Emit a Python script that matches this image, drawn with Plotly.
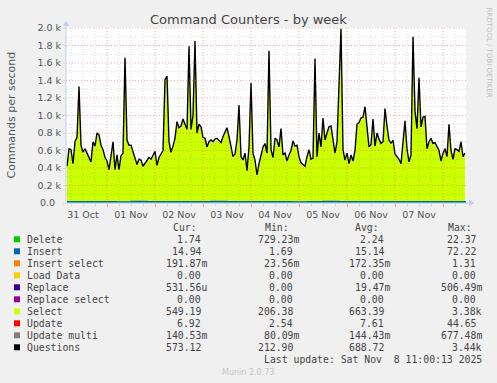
import pandas as pd
import plotly.graph_objects as go

# ---------------- data ----------------
start_time = "2025-10-31 04:00"
questions_k = [
    0.42, 0.62, 0.61, 0.45, 0.70, 0.75, 1.33, 0.66, 0.58, 0.62,
    0.57, 0.51, 0.47, 0.70, 0.65, 0.80, 0.78, 0.66, 0.61, 0.52,
    0.48, 0.38, 0.52, 0.70, 0.38, 0.55, 0.38, 0.54, 0.57, 1.66,
    0.72, 0.66, 0.66, 0.58, 0.53, 0.44, 0.50, 0.49, 0.42, 0.45,
    0.49, 0.52, 0.50, 0.54, 0.59, 0.43, 0.52, 0.56, 0.60, 1.41,
    1.45, 0.70, 0.58, 0.65, 0.74, 0.93, 0.86, 0.88, 0.96, 0.90,
    0.84, 1.79, 0.84, 1.00, 1.85, 0.80, 0.90, 0.87, 0.75, 0.74,
    0.64, 0.70, 0.72, 0.70, 0.73, 0.74, 0.72, 0.69, 0.76, 0.82,
    0.86, 0.76, 0.62, 0.53, 0.56, 0.72, 1.12, 0.53, 0.49, 0.57,
    0.37, 0.64, 1.37, 0.57, 0.49, 0.32, 0.45, 0.53, 0.64, 0.68,
    0.57, 1.74, 0.61, 0.52, 0.74, 0.72, 0.64, 0.85, 0.55, 0.57,
    0.48, 0.55, 0.60, 0.71, 0.65, 0.66, 0.53, 0.46, 0.44, 0.42,
    0.53, 0.61, 0.50, 0.51, 1.65, 0.53, 0.80, 0.64, 0.97, 0.72,
    0.80, 0.87, 0.88, 0.72, 0.57, 0.70, 1.40, 1.99, 0.61, 0.49,
    0.57, 0.45, 0.55, 0.48, 0.60, 0.90, 0.92, 0.97, 0.98, 1.10,
    0.87, 0.64, 0.67, 0.96, 0.65, 0.80, 0.73, 0.68, 0.70, 1.08,
    0.88, 0.72, 0.68, 0.72, 0.56, 0.53, 0.50, 0.45, 0.70, 0.94,
    0.62, 0.47, 0.55, 1.90, 1.05, 0.85, 1.43, 0.87, 0.98, 0.99,
    0.62, 0.70, 0.74, 0.68, 0.69, 0.65, 0.60, 0.48, 0.57, 0.62,
    0.53, 0.90, 0.60, 0.50, 0.62, 0.61, 0.59, 0.70, 0.53, 0.57,
]
select_k = [
    0.40, 0.60, 0.59, 0.43, 0.68, 0.73, 1.31, 0.64, 0.56, 0.60,
    0.55, 0.49, 0.45, 0.68, 0.63, 0.78, 0.76, 0.64, 0.59, 0.50,
    0.46, 0.36, 0.50, 0.68, 0.36, 0.53, 0.36, 0.52, 0.55, 1.64,
    0.70, 0.64, 0.64, 0.56, 0.51, 0.42, 0.48, 0.47, 0.40, 0.43,
    0.47, 0.50, 0.48, 0.52, 0.57, 0.41, 0.50, 0.54, 0.58, 1.39,
    1.43, 0.68, 0.56, 0.63, 0.72, 0.91, 0.84, 0.86, 0.94, 0.88,
    0.82, 1.77, 0.82, 0.98, 1.83, 0.78, 0.88, 0.85, 0.73, 0.72,
    0.62, 0.68, 0.70, 0.68, 0.71, 0.72, 0.70, 0.67, 0.74, 0.80,
    0.84, 0.74, 0.60, 0.51, 0.54, 0.70, 1.10, 0.51, 0.47, 0.55,
    0.35, 0.62, 1.35, 0.55, 0.47, 0.30, 0.43, 0.51, 0.62, 0.66,
    0.55, 1.72, 0.59, 0.50, 0.72, 0.70, 0.62, 0.83, 0.53, 0.55,
    0.46, 0.53, 0.58, 0.69, 0.63, 0.64, 0.51, 0.44, 0.42, 0.40,
    0.51, 0.59, 0.48, 0.49, 1.63, 0.51, 0.78, 0.62, 0.95, 0.70,
    0.78, 0.85, 0.86, 0.70, 0.55, 0.68, 1.38, 1.97, 0.59, 0.47,
    0.55, 0.43, 0.53, 0.46, 0.58, 0.88, 0.90, 0.95, 0.96, 1.08,
    0.85, 0.62, 0.65, 0.94, 0.63, 0.78, 0.71, 0.66, 0.68, 1.06,
    0.86, 0.70, 0.66, 0.70, 0.54, 0.51, 0.48, 0.43, 0.68, 0.92,
    0.60, 0.45, 0.53, 1.88, 1.03, 0.83, 1.41, 0.85, 0.96, 0.97,
    0.60, 0.68, 0.72, 0.66, 0.67, 0.63, 0.58, 0.46, 0.55, 0.60,
    0.51, 0.88, 0.58, 0.48, 0.60, 0.59, 0.57, 0.68, 0.51, 0.55,
]
# small series, sampled every 8 hours
small_start = "2025-10-31 04:00"
insert_vals = [14, 16, 15, 13, 17, 15, 16, 14, 15, 18, 15, 14, 16,
               15, 13, 15, 17, 16, 14, 15, 16, 15, 14, 15, 15, 15]
delete_vals = [2, 2, 3, 2, 2, 2, 3, 2, 2, 2, 2, 3, 2,
               2, 2, 2, 3, 2, 2, 2, 2, 2, 3, 2, 2, 2]

y_ticks = [0, 200, 400, 600, 800, 1000, 1200, 1400, 1600, 1800, 2000]
y_ticktext = ["0.0\u00a0\u00a0", "0.2 k", "0.4 k", "0.6 k", "0.8 k", "1.0 k",
              "1.2 k", "1.4 k", "1.6 k", "1.8 k", "2.0 k"]

legend_labels = ["Delete", "Insert", "Insert select", "Load Data", "Replace",
                 "Replace select", "Select", "Update", "Update multi", "Questions"]
legend_colors = ["#00CC00", "#0066B3", "#FF8000", "#FFCC00", "#330099",
                 "#990099", "#CCFF00", "#FF0000", "#808080", "#000000"]
cur_vals = ["1.74", "14.94", "191.87m", "0.00", "531.56u", "0.00", "549.19", "6.92", "140.53m", "573.12"]
min_vals = ["729.23m", "1.69", "23.56m", "0.00", "0.00", "0.00", "206.38", "2.54", "80.09m", "212.90"]
avg_vals = ["2.24", "15.14", "172.35m", "0.00", "19.47m", "0.00", "663.39", "7.61", "144.43m", "688.72"]
max_vals = ["22.37", "72.22", "1.31", "0.00", "506.49m", "0.00", "3.38k", "44.65", "677.48m", "3.44k"]
last_update = "Last update: Sat Nov\u00a0\u00a08 11:00:13 2025"

# ---------------- layout helpers ----------------
W, H = 497, 383
L, R, T, B = 66, 31, 28, 180
PW, PH = W - L - R, H - T - B
X_RANGE = ["2025-10-31 03:30", "2025-11-08 11:30"]


def px(xp):
    return (xp - L) / PW


def py(yp):
    return (H - B - yp) / PH


times = pd.date_range(start_time, periods=len(questions_k), freq="h")
small_times = pd.date_range(small_start, periods=len(insert_vals), freq="8h")

fig = go.Figure()
fig.add_trace(go.Scatter(x=times, y=[v * 1000 for v in select_k], mode="lines",
                         fill="tozeroy", fillcolor="#CCFF00",
                         line=dict(width=0, color="#CCFF00"), name="Select",
                         hoverinfo="skip"))
fig.add_trace(go.Scatter(x=small_times, y=insert_vals, mode="lines",
                         fill="tozeroy", fillcolor="#0066B3",
                         line=dict(width=1.4, color="#0066B3"), name="Insert",
                         line_shape="hv", hoverinfo="skip"))
fig.add_trace(go.Scatter(x=small_times, y=delete_vals, mode="lines",
                         fill="tozeroy", fillcolor="#00CC00",
                         line=dict(width=0, color="#00CC00"), name="Delete",
                         line_shape="hv", hoverinfo="skip"))
fig.add_trace(go.Scatter(x=times, y=[v * 1000 for v in questions_k], mode="lines",
                         line=dict(width=1.4, color="#000000"), name="Questions",
                         hoverinfo="skip"))

tickfont = dict(family="DejaVu Sans", size=9.5, color="#555555")
fig.update_layout(
    width=W, height=H,
    margin=dict(l=L, r=R, t=T, b=B, pad=0),
    paper_bgcolor="#F0F0F0", plot_bgcolor="#FFFFFF",
    showlegend=False,
    xaxis=dict(
        type="date", range=X_RANGE,
        tick0="2025-11-01", dtick=86400000,
        tickformat="%d %b", ticklabelmode="period",
        showgrid=False,
        ticks="outside", ticklen=3, tickcolor="#F0A0A0",
        minor=dict(dtick=6 * 3600 * 1000, showgrid=False,
                   ticks="outside", ticklen=2, tickcolor="#D4D4D4"),
        tickfont=tickfont, showline=False, zeroline=False, fixedrange=True,
    ),
    yaxis=dict(
        range=[0, 2000],
        tickvals=y_ticks, ticktext=y_ticktext,
        showgrid=False,
        ticks="outside", ticklen=2, tickcolor="#D4D4D4",
        tickfont=tickfont, showline=False, zeroline=False, fixedrange=True,
    ),
)

# grid drawn above the data, as rrdtool does
minor_col = "rgba(120,120,120,0.30)"
major_col = "rgba(230,50,50,0.42)"
dash = "1px,2px"
shapes = []
grid_times = pd.date_range("2025-10-31 06:00", "2025-11-08 06:00", freq="6h")
for t in grid_times:
    major = t.hour == 0
    shapes.append(dict(type="line", xref="x", yref="paper", x0=t, x1=t, y0=0, y1=1,
                       layer="above",
                       line=dict(color=major_col if major else minor_col, width=1, dash=dash)))
for v in range(100, 2001, 100):
    major = v % 200 == 0
    shapes.append(dict(type="line", xref="paper", yref="y", x0=0, x1=1, y0=v, y1=v,
                       layer="above",
                       line=dict(color=major_col if major else minor_col, width=1, dash=dash)))

axis_col = "#C4CCF2"
shapes += [
    dict(type="line", xref="paper", yref="paper", x0=px(66), x1=px(66), y0=py(203), y1=py(24),
         line=dict(color=axis_col, width=1)),
    dict(type="line", xref="paper", yref="paper", x0=px(66), x1=px(470), y0=py(203), y1=py(203),
         line=dict(color=axis_col, width=1)),
    dict(type="path", xref="paper", yref="paper",
         path=f"M {px(63)} {py(26)} L {px(69)} {py(26)} L {px(66)} {py(20.5)} Z",
         fillcolor=axis_col, line=dict(width=0)),
    dict(type="path", xref="paper", yref="paper",
         path=f"M {px(469)} {py(200)} L {px(469)} {py(206)} L {px(474.5)} {py(203)} Z",
         fillcolor=axis_col, line=dict(width=0)),
]

annotations = [
    dict(text="Command Counters - by week", x=px(248), y=py(19), xref="paper", yref="paper",
         showarrow=False, xanchor="center", yanchor="middle",
         font=dict(family="DejaVu Sans", size=13, color="#444444")),
    dict(text="Commands per second", x=px(10.5), y=py(115), xref="paper", yref="paper",
         showarrow=False, xanchor="center", yanchor="middle", textangle=-90,
         font=dict(family="DejaVu Sans", size=11, color="#555555")),
    dict(text="RRDTOOL / TOBI OETIKER", x=px(488.5), y=py(53), xref="paper", yref="paper",
         showarrow=False, xanchor="center", yanchor="middle", textangle=90,
         font=dict(family="DejaVu Sans", size=7, color="#C0C0C0")),
    dict(text="Munin 2.0.73", x=px(248), y=py(372), xref="paper", yref="paper",
         showarrow=False, xanchor="center", yanchor="middle",
         font=dict(family="DejaVu Sans", size=8, color="#C4C4C4")),
]

mono = dict(family="DejaVu Sans Mono", size=9.8, color="#444444")


def txt(s, xp, yp, anchor):
    annotations.append(dict(text=s, x=px(xp), y=py(yp), xref="paper", yref="paper",
                            showarrow=False, xanchor=anchor, yanchor="middle",
                            font=mono, borderpad=0))


header_y = 227.3
for h, xp in zip(["Cur:", "Min:", "Avg:", "Max:"], [172.3, 264, 354.3, 447.3]):
    txt(h, xp, header_y, "left")


def fmt(v):
    return v if v[-1].isalpha() else v + "\u00a0"


col_right = [207.6, 300, 391, 482.7]
for i, lab in enumerate(legend_labels):
    yc = 239.3 + 12 * i
    shapes.append(dict(type="rect", xref="paper", yref="paper",
                       x0=px(14), x1=px(20), y0=py(yc + 3), y1=py(yc - 3),
                       fillcolor=legend_colors[i], line=dict(width=0)))
    txt(lab, 26.3, yc, "left")
    for col, xr in zip([cur_vals, min_vals, avg_vals, max_vals], col_right):
        txt(fmt(col[i]), xr, yc, "right")

txt(last_update, 482.7, 359.3, "right")

fig.update_layout(shapes=shapes, annotations=annotations)
fig.write_html("out.html")
